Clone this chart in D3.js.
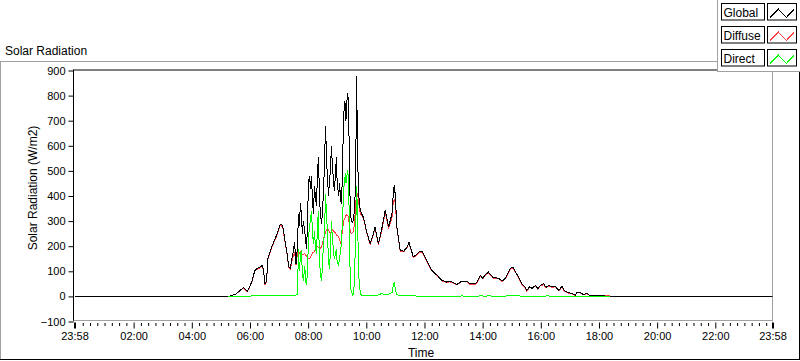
<!DOCTYPE html>
<html><head><meta charset="utf-8">
<script src="https://cdn.jsdelivr.net/npm/d3@7"></script>
<style>
body{margin:0;background:#fff;}
svg{display:block;font-family:"Liberation Sans",Arial,sans-serif;}
</style>
</head><body>
<svg id="c" width="800" height="361"></svg>
<script>
// ---------------- DATA ----------------
const times = [
"05:15","05:23","05:31","05:39","05:46","05:50","05:54","05:58","06:04","06:10",
"06:14","06:21","06:25","06:28","06:31","06:34","06:37","06:41","06:45","06:50",
"06:54","06:58","07:02","07:05","07:08","07:12","07:16",
"07:20","07:23","07:26","07:29","07:32","07:35","07:38","07:40","07:42","07:44",
"07:46","07:48","07:50","07:53","07:55","07:57","07:59","08:01","08:03","08:05",
"08:07","08:09","08:11","08:13","08:15","08:17","08:19","08:21","08:23","08:25",
"08:28","08:30","08:32","08:34","08:36","08:38","08:40","08:42","08:44","08:46",
"08:48","08:50","08:52","08:54","08:57","08:58","09:00","09:03","09:05","09:07",
"09:09","09:11","09:13","09:15","09:17","09:18","09:20","09:22","09:24","09:25",
"09:27","09:29","09:32","09:34","09:36","09:38","09:40","09:42","09:44","09:46",
"09:48","09:50","09:54",
"10:01","10:08","10:13","10:18","10:25","10:32","10:39","10:46","10:53","10:56",
"10:58","11:00","11:03","11:10","11:17","11:24","11:28","11:37","11:44","11:48",
"11:55","11:59","12:05","12:15","12:26","12:36","12:46","12:53","13:07","13:17",
"13:28","13:34","13:45","13:49","13:55","14:00","14:05","14:12","14:22","14:33",
"14:40","14:45","14:50","14:57","15:02","15:07","15:14","15:21","15:28","15:31",
"15:37","15:42","15:49","15:54","15:59","16:06","16:11","16:16","16:23","16:30",
"16:37","16:44","16:48","16:54","17:04","17:11","17:15","17:21","17:28","17:35",
"17:42","17:52","18:03","18:09","18:23"
];
const globalRad = [
0,4,10,22,35,30,20,33,60,103, 110,117,123,105,50,60,150,175,198,222, 240,262,285,288,275,225,180,
118,112,145,175,215,130,200,330,280,370, 330,250,300,260,215,190,330,462,480,430,
480,380,330,440,400,360,470,555,440,330, 290,360,420,560,680,540,470,400,460,500,
600,520,470,420,500,555,450,400,450,380, 370,520,700,780,760,700,780,810,690,540,
340,300,295,310,360,460,880,560,420,360, 345,330,316,
256,210,240,276,210,270,343,276,330,420, 445,395,276,183,180,196,216,157,168,176,
180,165,143,104,84,64,57,60,48,61, 61,50,50,58,84,73,85,97,74,73,
61,68,84,110,117,101,77,50,35,24, 38,32,44,30,44,50,36,44,38,40,
24,40,25,17,11,5,17,17,7,13, 2,3,4,2,0
];
const diffuseRad = [
0,4,10,21,33,28,18,31,58,100, 107,114,120,102,46,57,146,170,194,218, 236,258,280,283,270,220,176,
114,108,135,160,175,125,170,180,172,176, 170,165,168,170,165,160,155,150,152,155,
165,172,176,178,190,205,200,195,192,190, 200,215,232,245,258,265,270,265,255,250,
258,265,262,258,250,245,242,238,225,215, 230,270,295,310,316,322,325,322,300,285,
260,250,255,265,300,360,420,400,390,340, 330,322,312,
252,206,236,272,206,262,336,270,315,382, 385,370,272,180,177,193,213,154,165,173,
177,162,140,101,82,62,55,58,46,59, 59,48,48,56,80,70,82,94,72,71,
59,66,81,106,113,98,75,48,33,22, 36,30,42,28,42,46,34,42,36,38,
22,38,23,15,10,4,15,15,6,11, 2,3,4,3,2
];
const directRad = [
0,0,0,1,1,1,1,1,2,2, 2,2,2,2,2,2,2,2,3,3, 3,4,4,5,5,5,5,
4,4,4,4,5,5,8,190,100,160, 185,100,62,120,60,45,130,240,280,310,
340,250,210,260,200,170,260,340,180,90, 62,160,200,280,409,320,250,140,110,180,
300,230,190,150,170,190,135,125,160,170, 236,300,420,460,490,450,480,502,400,300,
40,20,5,8,100,250,440,316,100,40, 10,5,4,
4,4,4,4,6,12,6,8,15,45, 57,25,6,5,4,4,4,3,1,0,
0,0,0,0,0,0,0,0,0,2, 0,0,0,0,3,2,0,3,0,0,
0,0,2,3,3,2,3,0,0,0, 0,0,0,0,0,0,2,2,0,0,
0,0,0,0,0,0,0,0,0,0, 0,0,0,0,0
];
const seriesNames = ["Global","Diffuse","Direct"];
const seriesColors = ["#000000","#ff4040","#00ff00"];
const yTicks = [-100,0,100,200,300,400,500,600,700,800,900];
const xTickLabels = ["23:58","02:00","04:00","06:00","08:00","10:00","12:00","14:00","16:00","18:00","20:00","22:00","23:58"];
const minorStepMin = 15;

// ---------------- HELPERS ----------------
const toMin = s => { const [h,m] = s.split(":").map(Number); return h*60+m; };
const xTickMin = xTickLabels.map((s,i) => i === 0 ? toMin(s) - 1440 : toMin(s));
const domainStart = xTickMin[0], domainEnd = xTickMin[xTickMin.length-1];

const svg = d3.select("#c");
svg.append("rect").attr("width",800).attr("height",361).attr("fill","#fff");

const L = 74.5, R = 772.5, T = 70.5, B = 321.5;
const x = d3.scaleLinear().domain([domainStart, domainEnd]).range([L, R]);
const y = d3.scaleLinear().domain([-100, 900]).range([B, T]);

// outer panel frame
svg.append("line").attr("x1",0).attr("x2",717).attr("y1",61.5).attr("y2",61.5).attr("stroke","#a0a0a0");
svg.append("line").attr("x1",0.5).attr("x2",0.5).attr("y1",61.5).attr("y2",359).attr("stroke","#a0a0a0");
svg.append("line").attr("x1",0).attr("x2",800).attr("y1",359.5).attr("y2",359.5).attr("stroke","#000");
svg.append("line").attr("x1",799.5).attr("x2",799.5).attr("y1",61).attr("y2",360).attr("stroke","#000");

svg.append("text").attr("x",5).attr("y",55).attr("font-size","12px").attr("fill","#000").text("Solar Radiation");

// plot area frame
svg.append("line").attr("x1",L-1).attr("x2",R).attr("y1",T-0.5).attr("y2",T-0.5).attr("stroke","#000");
svg.append("line").attr("x1",L-1).attr("x2",L-1).attr("y1",T-1).attr("y2",B).attr("stroke","#000");
svg.append("line").attr("x1",R).attr("x2",R).attr("y1",T-1).attr("y2",B).attr("stroke","#a0a0a0");
svg.append("line").attr("x1",L-1).attr("x2",R).attr("y1",B-1).attr("y2",B-1).attr("stroke","#a0a0a0");

// y axis
const yAxis = svg.append("g").attr("transform",`translate(${L-1},0)`)
  .call(d3.axisLeft(y).tickValues(yTicks).tickSize(5).tickPadding(3).tickFormat(d3.format("d")));
yAxis.select(".domain").remove();
yAxis.selectAll("text").attr("font-size","11px").attr("fill","#000").attr("font-family","Liberation Sans, Arial, sans-serif");
yAxis.selectAll("line").attr("stroke","#000");

// x axis
const minorTicks = d3.range(minorStepMin, 1440, minorStepMin).filter(m => m % 120 !== 0);
const xMinor = svg.append("g").attr("transform",`translate(0,${B+1.5})`)
  .call(d3.axisBottom(x).tickValues(minorTicks).tickSize(3).tickFormat(""));
xMinor.select(".domain").remove();
xMinor.selectAll("line").attr("stroke","#000");
const xAxis = svg.append("g").attr("transform",`translate(0,${B+1})`)
  .call(d3.axisBottom(x).tickValues(xTickMin).tickSize(6).tickPadding(4).tickFormat((d,i)=>xTickLabels[i]));
xAxis.select(".domain").remove();
xAxis.selectAll("line").attr("stroke","#000");
xAxis.selectAll(".tick").filter((d,i)=> i===0 || i===xTickMin.length-1).select("line").attr("stroke-width",2);
xAxis.selectAll("text").attr("font-size","11px").attr("fill","#000").attr("font-family","Liberation Sans, Arial, sans-serif");

svg.append("text").attr("x",421).attr("y",357).attr("text-anchor","middle").attr("font-size","12px").attr("fill","#000").text("Time");
svg.append("text").attr("transform","translate(37,188) rotate(-90)").attr("text-anchor","middle")
  .attr("font-size","12px").attr("fill","#000").text("Solar Radiation (W/m2)");

// data lines
svg.append("clipPath").attr("id","pc").append("rect").attr("x",L-1).attr("y",T-1).attr("width",R-L+1).attr("height",B-T+1);
const tMin = times.map(toMin);
const line = d3.line().x(d=>x(d[0])).y(d=>y(d[1]));
const g = svg.append("g").attr("clip-path","url(#pc)");
const globalPts = [[domainStart,0]].concat(tMin.map((t,i)=>[t,globalRad[i]])).concat([[domainEnd,0]]);
const diffusePts = tMin.map((t,i)=>[t,diffuseRad[i]]);
const directPts = tMin.map((t,i)=>[t,directRad[i]]);
[[diffusePts,1],[globalPts,0],[directPts,2]].forEach(([pts,k])=>{
  g.append("path").attr("d",line(pts)).attr("fill","none").attr("stroke",seriesColors[k])
   .attr("stroke-width",1).attr("shape-rendering","crispEdges");
});

// legend
const lg = svg.append("g");
lg.append("rect").attr("x",717).attr("y",0).attr("width",83).attr("height",72).attr("fill","#fff");
lg.append("line").attr("x1",717.5).attr("x2",717.5).attr("y1",0).attr("y2",72).attr("stroke","#a0a0a0");
lg.append("line").attr("x1",717).attr("x2",800).attr("y1",71.5).attr("y2",71.5).attr("stroke","#a0a0a0");
seriesNames.forEach((name,i)=>{
  const top = 3.5 + i*23;
  lg.append("rect").attr("x",721.5).attr("y",top).attr("width",43).attr("height",16.5).attr("fill","#fff").attr("stroke","#000");
  lg.append("text").attr("x",723.5).attr("y",top+13).attr("font-size","12px").attr("fill","#000").text(name);
  lg.append("rect").attr("x",767.5).attr("y",top).attr("width",29).attr("height",16.5).attr("fill","#fff").attr("stroke","#000");
  lg.append("polyline").attr("points",`770,${top+14} 778.3,${top+5.5} 786.3,${top+14} 794.3,${top+5.5}`)
    .attr("fill","none").attr("stroke",seriesColors[i]).attr("stroke-width",1).attr("shape-rendering","crispEdges");
});
</script>
</body></html>
